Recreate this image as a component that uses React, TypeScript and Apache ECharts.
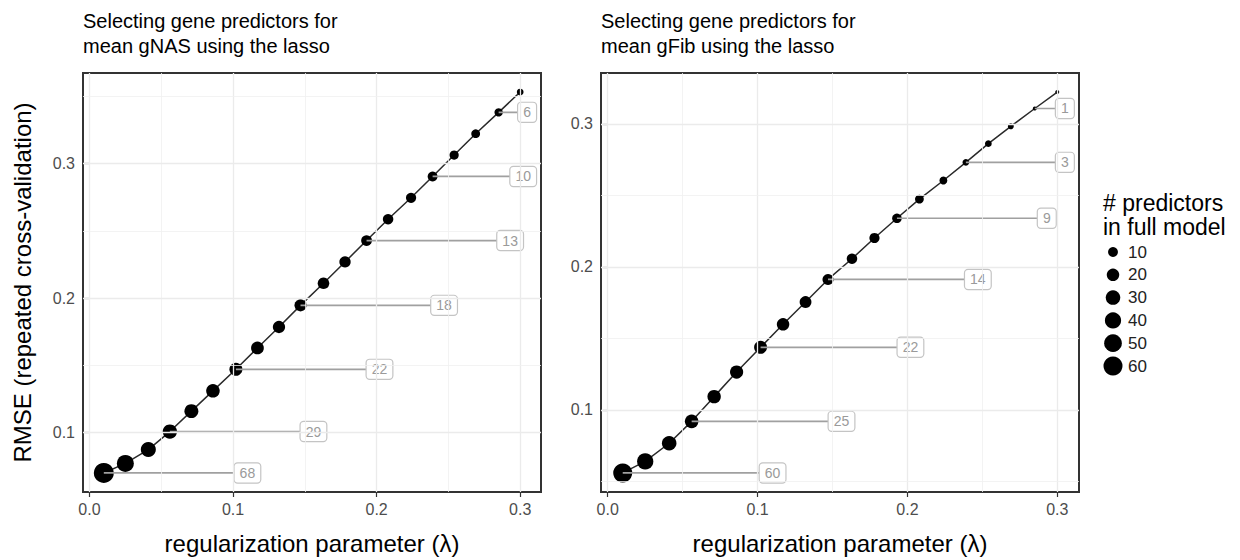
import React, { useEffect, useRef } from "react";
import * as echarts from "echarts";

// ---------------- data ----------------
const LAMBDA = [0.010, 0.025, 0.041, 0.056, 0.071, 0.086, 0.102, 0.117, 0.132, 0.147, 0.163, 0.178, 0.193, 0.208, 0.224, 0.239, 0.254, 0.269, 0.285, 0.300];
const RMSE_GNAS = [0.0699, 0.0770, 0.0873, 0.1007, 0.1159, 0.1310, 0.1470, 0.1629, 0.1785, 0.1946, 0.2110, 0.2269, 0.2428, 0.2587, 0.2746, 0.2905, 0.3064, 0.3223, 0.3382, 0.3533];
const NPRED_GNAS = [68, 45, 33, 29, 27, 25, 22, 21, 19, 18, 16, 15, 13, 12, 11, 10, 8, 7, 6, 3];
const RMSE_GFIB = [0.0558, 0.0639, 0.0766, 0.0919, 0.1092, 0.1264, 0.1437, 0.1598, 0.1754, 0.1912, 0.2057, 0.2202, 0.2340, 0.2474, 0.2604, 0.2731, 0.2862, 0.2983, 0.3108, 0.3223];
const NPRED_GFIB = [60, 40, 30, 25, 24, 23, 22, 20, 17, 14, 12, 11, 9, 7, 5, 3, 3, 2, 1, 1];
const LABELLED_INDEX = [0, 3, 6, 9, 12, 15, 18];

const X_TICKS = [0, 0.1, 0.2, 0.3];
const X_MINOR = [0.05, 0.15, 0.25];
const Y_TICKS = [0.1, 0.2, 0.3];
const Y_MINOR_GNAS = [0.15, 0.25, 0.35];
const Y_MINOR_GFIB = [0.05, 0.15, 0.25];
const LEGEND_BREAKS = [10, 20, 30, 40, 50, 60];

const TITLES = [
  "Selecting gene predictors for\nmean gNAS using the lasso",
  "Selecting gene predictors for\nmean gFib using the lasso",
];
const X_TITLE = "regularization parameter (\u03bb)";
const Y_TITLE = "RMSE (repeated cross-validation)";
const LEGEND_TITLE = "# predictors\nin full model";

// ---------------- style ----------------
const FONT = "'Liberation Sans', Arial, Helvetica, sans-serif";
const NUDGE = 0.1;
const LABEL_XMAX = 0.311;
const ALL_N = NPRED_GNAS.concat(NPRED_GFIB);
const N_MIN = 1;
const N_MAX = Math.max(...ALL_N);
const pointSize = (n: number) => 4 + 16 * Math.sqrt(Math.max(0, n - N_MIN) / (N_MAX - N_MIN));

const expand = (vals: number[]) => {
  const lo = Math.min(...vals);
  const hi = Math.max(...vals);
  const pad = (hi - lo) * 0.05;
  return [lo - pad, hi + pad];
};

function gridLineSeries(idx: number, yMinor: number[]) {
  const major = { color: "#ebebeb", width: 1.3, type: "solid" };
  const minor = { color: "#f0f0f0", width: 0.8, type: "solid" };
  const d: any[] = [];
  X_TICKS.forEach((v) => d.push({ xAxis: v, lineStyle: major }));
  X_MINOR.forEach((v) => d.push({ xAxis: v, lineStyle: minor }));
  Y_TICKS.forEach((v) => d.push({ yAxis: v, lineStyle: major }));
  yMinor.forEach((v) => d.push({ yAxis: v, lineStyle: minor }));
  return {
    type: "line",
    xAxisIndex: idx,
    yAxisIndex: idx,
    data: [],
    z: 1,
    silent: true,
    markLine: {
      silent: true,
      symbol: ["none", "none"],
      label: { show: false },
      emphasis: { disabled: true },
      animation: false,
      data: d,
    },
  };
}

function curveSeries(idx: number, rmse: number[], npred: number[]) {
  return {
    type: "line",
    xAxisIndex: idx,
    yAxisIndex: idx,
    data: LAMBDA.map((x, i) => [x, rmse[i], npred[i]]),
    symbol: "circle",
    symbolSize: (v: number[]) => pointSize(v[2]),
    showSymbol: true,
    showAllSymbol: true,
    lineStyle: { color: "#2a2a2a", width: 1.5 },
    itemStyle: { color: "#000" },
    emphasis: { disabled: true },
    silent: true,
    z: 2,
  };
}

function labelSeries(idx: number, rmse: number[], npred: number[]) {
  return {
    type: "custom",
    xAxisIndex: idx,
    yAxisIndex: idx,
    z: 3,
    silent: true,
    clip: false,
    data: LABELLED_INDEX.map((i) => [LAMBDA[i], rmse[i], npred[i]]),
    renderItem: (_p: any, api: any) => {
      const x = api.value(0);
      const y = api.value(1);
      const n = api.value(2);
      const pt = api.coord([x, y]);
      const nudged = x + NUDGE;
      const atEdge = nudged > LABEL_XMAX;
      const lp = api.coord([atEdge ? LABEL_XMAX : nudged, y]);
      return {
        type: "group",
        children: [
          {
            type: "line",
            shape: { x1: pt[0], y1: pt[1], x2: lp[0], y2: lp[1] },
            style: { stroke: "#a0a0a0", lineWidth: 1.7 },
          },
          {
            type: "text",
            x: lp[0],
            y: lp[1],
            style: {
              text: String(n),
              fontSize: 14,
              fontFamily: FONT,
              fill: "#9a9a9a",
              align: atEdge ? "right" : "center",
              verticalAlign: "middle",
              backgroundColor: "#fff",
              borderColor: "#c4c4c4",
              borderWidth: 1.2,
              borderRadius: 3,
              padding: [3, 5, 2, 5],
            },
          },
        ],
      };
    },
  };
}

export default function App() {
  const ref = useRef<HTMLDivElement>(null);

  useEffect(() => {
    if (!ref.current) return;
    const chart = echarts.init(ref.current, null, { renderer: "svg" });
    const xr = expand(LAMBDA);
    const y1 = expand(RMSE_GNAS);
    const y2 = expand(RMSE_GFIB);

    const xAxisBase = (idx: number) => ({
      type: "value",
      gridIndex: idx,
      min: xr[0],
      max: xr[1],
      name: X_TITLE,
      nameLocation: "middle",
      nameGap: 39,
      nameTextStyle: { fontSize: 24, color: "#000", fontFamily: FONT },
      axisLine: { show: false },
      splitLine: { show: false },
      axisTick: { show: true, length: 5, customValues: X_TICKS, lineStyle: { color: "#333", width: 1.2 } },
      axisLabel: {
        customValues: X_TICKS,
        formatter: (v: number) => v.toFixed(1),
        fontSize: 16,
        color: "#4d4d4d",
        fontFamily: FONT,
        margin: 9,
      },
    });

    const yAxisBase = (idx: number, yr: number[], withName: boolean) => ({
      type: "value",
      gridIndex: idx,
      min: yr[0],
      max: yr[1],
      name: withName ? Y_TITLE : "",
      nameLocation: "middle",
      nameGap: 49,
      nameTextStyle: { fontSize: 24, color: "#000", fontFamily: FONT },
      axisLine: { show: false },
      splitLine: { show: false },
      axisTick: { show: true, length: 5, customValues: Y_TICKS, lineStyle: { color: "#333", width: 1.2 } },
      axisLabel: {
        customValues: Y_TICKS,
        formatter: (v: number) => v.toFixed(1),
        fontSize: 16,
        color: "#4d4d4d",
        fontFamily: FONT,
        margin: 8,
      },
    });

    const legendChildren: any[] = [
      {
        type: "text",
        x: 1103,
        y: 191,
        style: { text: LEGEND_TITLE, fontSize: 23, lineHeight: 24, fill: "#000", fontFamily: FONT },
      },
    ];
    LEGEND_BREAKS.forEach((n, i) => {
      const cy = 252 + i * 22.8;
      legendChildren.push({
        type: "circle",
        shape: { cx: 1113, cy, r: pointSize(n) / 2 },
        style: { fill: "#000" },
      });
      legendChildren.push({
        type: "text",
        x: 1128,
        y: cy,
        style: { text: String(n), fontSize: 17, fill: "#222", fontFamily: FONT, verticalAlign: "middle" },
      });
    });

    chart.setOption({
      animation: false,
      backgroundColor: "#fff",
      textStyle: { fontFamily: FONT },
      title: TITLES.map((t, i) => ({
        text: t,
        left: i === 0 ? 83 : 601,
        top: 8,
        padding: 0,
        textStyle: { fontSize: 20, lineHeight: 25, fontWeight: "normal", color: "#000", fontFamily: FONT },
      })),
      grid: [
        { left: 83, right: 1240 - 541, top: 73, bottom: 63, show: true, borderColor: "#333", borderWidth: 2, backgroundColor: "#fff" },
        { left: 601, right: 1240 - 1079, top: 73, bottom: 63, show: true, borderColor: "#333", borderWidth: 2, backgroundColor: "#fff" },
      ],
      xAxis: [xAxisBase(0), xAxisBase(1)],
      yAxis: [yAxisBase(0, y1, true), yAxisBase(1, y2, false)],
      series: [
        gridLineSeries(0, Y_MINOR_GNAS),
        gridLineSeries(1, Y_MINOR_GFIB),
        curveSeries(0, RMSE_GNAS, NPRED_GNAS),
        curveSeries(1, RMSE_GFIB, NPRED_GFIB),
        labelSeries(0, RMSE_GNAS, NPRED_GNAS),
        labelSeries(1, RMSE_GFIB, NPRED_GFIB),
      ],
      graphic: [{ type: "group", children: legendChildren }],
    });

    return () => chart.dispose();
  }, []);

  return <div ref={ref} style={{ position: "fixed", left: 0, top: 0, width: 1240, height: 560 }} />;
}
